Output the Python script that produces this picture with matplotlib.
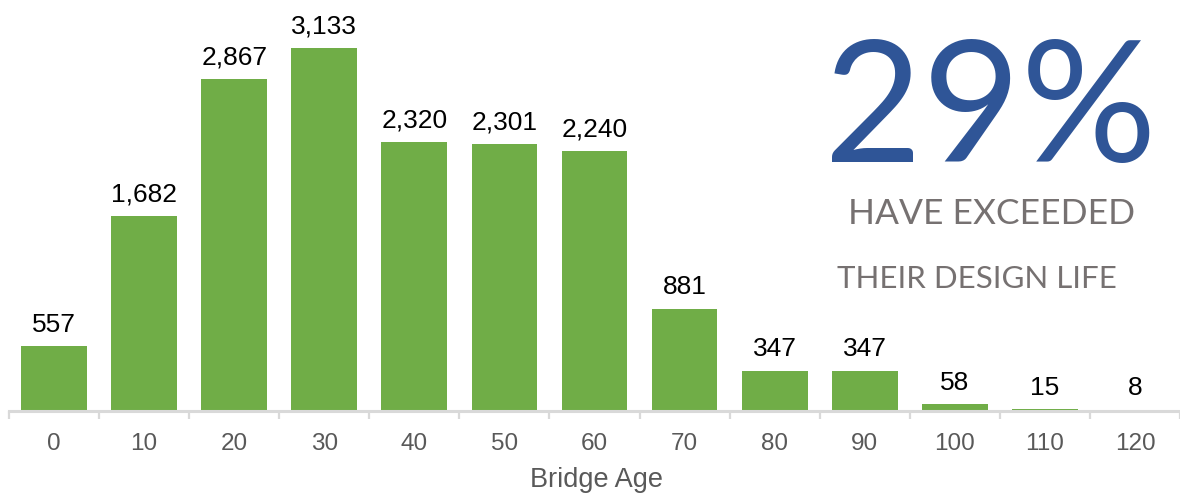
import matplotlib.pyplot as plt

# bridges per age bracket
ages = ["0", "10", "20", "30", "40", "50", "60", "70", "80", "90", "100", "110", "120"]
counts = [557, 1682, 2867, 3133, 2320, 2301, 2240, 881, 347, 347, 58, 15, 8]

headline = "29%"
sub1 = "HAVE EXCEEDED"
sub2 = "THEIR DESIGN LIFE"

green = "#70AD47"
blue = "#2F5597"
grey_txt = "#767171"
axis_grey = "#D9D9D9"

fig = plt.figure(figsize=(11.8, 4.97), dpi=100)
ax = fig.add_axes([9 / 1180, 1 - 411 / 497, 1 - 9 / 1180, 411 / 497])

x = range(len(ages))
ax.bar(x, counts, width=0.73, color=green, zorder=1)
for i, v in enumerate(counts):
    ax.annotate(f"{v:,}", (i, v), xytext=(0, 10.5), textcoords="offset points",
                ha="center", va="baseline", fontsize=19,
                family="Liberation Sans", color="black")

ax.set_xlim(-0.5, len(ages) - 0.5)
ax.set_ylim(0, 3547)
ax.set_yticks([])
for s in ["top", "right", "left"]:
    ax.spines[s].set_visible(False)
ax.spines["bottom"].set_color(axis_grey)
ax.spines["bottom"].set_linewidth(2.2)
ax.spines["bottom"].set_zorder(3)

# ticks sit between categories, labels at the centres
ax.set_xticks([i - 0.5 for i in range(len(ages) + 1)])
ax.set_xticklabels([])
ax.tick_params(axis="x", length=6, width=1.6, color=axis_grey)
for i, a in enumerate(ages):
    ax.text(i, -0.08 * 3547, a, ha="center", va="center", fontsize=17.5,
            family="Liberation Sans", color="#595959")

fig.text(597 / 1180, 1 - 480 / 497, "Bridge Age", ha="center", va="center",
         fontsize=19.5, family="Liberation Sans", color="#595959")

fig.text(990 / 1180, 1 - 114 / 497, headline, ha="center", va="center",
         fontsize=122, family="Lato", color=blue)
fig.text(992 / 1180, 1 - 214 / 497, sub1, ha="center", va="center",
         fontsize=25.5, family="Lato", color=grey_txt)
fig.text(977 / 1180, 1 - 279 / 497, sub2, ha="center", va="center",
         fontsize=22.5, family="Lato", color=grey_txt)

fig.savefig("out.png", dpi=100)
